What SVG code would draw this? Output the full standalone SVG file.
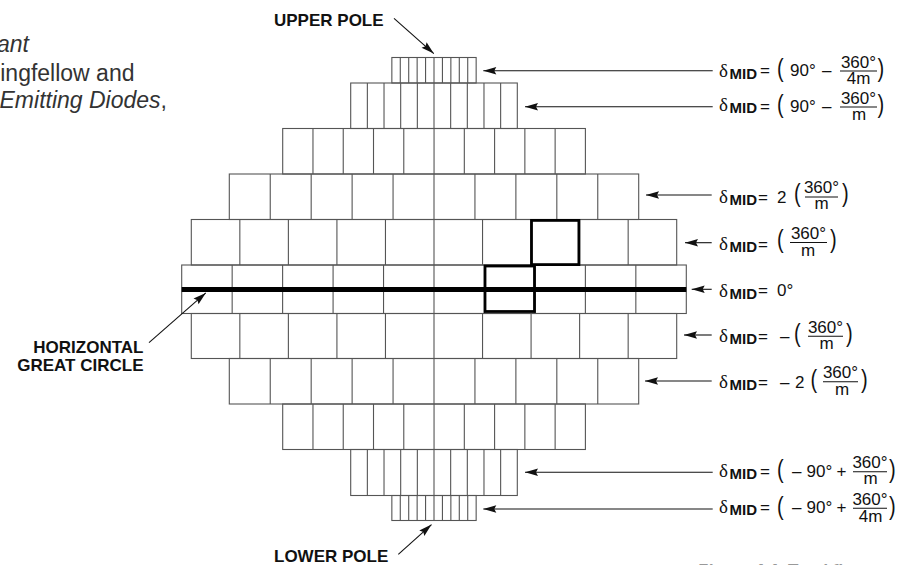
<svg xmlns="http://www.w3.org/2000/svg" width="909" height="565" viewBox="0 0 909 565">
<defs>
<style>
.g{fill:none;stroke:#555;stroke-width:1.1}
.bold{fill:none;stroke:#000;stroke-width:2.8}
.eq{stroke:#000;stroke-width:5}
.ar{stroke:#111;stroke-width:1.1;fill:none;marker-end:url(#ah)}
.bar{stroke:#111;stroke-width:1.1}
.t{font-family:"Liberation Sans",Arial,sans-serif;font-size:17px;fill:#111}
.c{text-anchor:middle}
.dl{font-family:"Liberation Serif","Times New Roman",serif;font-size:19px;fill:#111}
.mid{font-family:"Liberation Sans",Arial,sans-serif;font-size:15px;font-weight:bold;fill:#111}
.pa{font-family:"Liberation Sans",Arial,sans-serif;font-size:20px;fill:#111}
.lb{font-family:"Liberation Sans",Arial,sans-serif;font-size:17px;font-weight:bold;fill:#111}
.tl{font-family:"Liberation Sans",Arial,sans-serif;font-size:23px;fill:#333;text-anchor:end}
.cap{font-family:"Liberation Sans",Arial,sans-serif;font-size:17px;font-weight:bold;font-style:italic;fill:#999}
</style>
<marker id="ah" viewBox="-14 -5 15 10" refX="0" refY="0" markerWidth="15" markerHeight="10" markerUnits="userSpaceOnUse" orient="auto">
<path d="M0,0 L-13,-3.8 L-11,0 L-13,3.8 Z" fill="#111"/>
</marker>
</defs>
<rect width="909" height="565" fill="#fff"/>

<g id="intro-text">
<text class="tl" x="29" y="51.5" font-style="italic">ant</text>
<text class="tl" x="134.5" y="80.5">ingfellow and</text>
<text class="tl" x="167" y="108"><tspan font-style="italic">Emitting Diodes</tspan>,</text>
</g>

<g id="grid">
<g id="row1"><rect class="g" x="391.85" y="57.5" width="84.3" height="25.5"/><path class="g" d="M400.28,57.5V83M408.71,57.5V83M417.14,57.5V83M425.57,57.5V83M434,57.5V83M442.43,57.5V83M450.86,57.5V83M459.29,57.5V83M467.72,57.5V83"/></g>
<g id="row2"><rect class="g" x="350.7" y="83" width="166.6" height="45.5"/><path class="g" d="M367.36,83V128.5M384.02,83V128.5M400.68,83V128.5M417.34,83V128.5M434,83V128.5M450.66,83V128.5M467.32,83V128.5M483.98,83V128.5M500.64,83V128.5"/></g>
<g id="row3"><rect class="g" x="282.7" y="128.5" width="302.7" height="45.5"/><path class="g" d="M312.97,128.5V174M343.24,128.5V174M373.51,128.5V174M403.78,128.5V174M434.05,128.5V174M464.32,128.5V174M494.59,128.5V174M524.86,128.5V174M555.13,128.5V174"/></g>
<g id="row4"><rect class="g" x="229.3" y="174" width="409.4" height="45.5"/><path class="g" d="M270.24,174V219.5M311.18,174V219.5M352.12,174V219.5M393.06,174V219.5M434,174V219.5M474.94,174V219.5M515.88,174V219.5M556.82,174V219.5M597.76,174V219.5"/></g>
<g id="row5"><rect class="g" x="191.3" y="219.5" width="485.4" height="45.5"/><path class="g" d="M239.84,219.5V265M288.38,219.5V265M336.92,219.5V265M385.46,219.5V265M434,219.5V265M482.54,219.5V265M531.08,219.5V265M579.62,219.5V265M628.16,219.5V265"/></g>
<g id="row6"><rect class="g" x="181.7" y="265" width="504.6" height="48.5"/><path class="g" d="M232.16,265V313.5M282.62,265V313.5M333.08,265V313.5M383.54,265V313.5M434,265V313.5M484.46,265V313.5M534.92,265V313.5M585.38,265V313.5M635.84,265V313.5"/></g>
<g id="row7"><rect class="g" x="191.3" y="313.5" width="485.4" height="45"/><path class="g" d="M239.84,313.5V358.5M288.38,313.5V358.5M336.92,313.5V358.5M385.46,313.5V358.5M434,313.5V358.5M482.54,313.5V358.5M531.08,313.5V358.5M579.62,313.5V358.5M628.16,313.5V358.5"/></g>
<g id="row8"><rect class="g" x="229.3" y="358.5" width="409.4" height="45.5"/><path class="g" d="M270.24,358.5V404M311.18,358.5V404M352.12,358.5V404M393.06,358.5V404M434,358.5V404M474.94,358.5V404M515.88,358.5V404M556.82,358.5V404M597.76,358.5V404"/></g>
<g id="row9"><rect class="g" x="282.7" y="404" width="302.7" height="45.5"/><path class="g" d="M312.97,404V449.5M343.24,404V449.5M373.51,404V449.5M403.78,404V449.5M434.05,404V449.5M464.32,404V449.5M494.59,404V449.5M524.86,404V449.5M555.13,404V449.5"/></g>
<g id="row10"><rect class="g" x="350.7" y="449.5" width="166.6" height="46"/><path class="g" d="M367.36,449.5V495.5M384.02,449.5V495.5M400.68,449.5V495.5M417.34,449.5V495.5M434,449.5V495.5M450.66,449.5V495.5M467.32,449.5V495.5M483.98,449.5V495.5M500.64,449.5V495.5"/></g>
<g id="row11"><rect class="g" x="391.85" y="495.5" width="84.3" height="25"/><path class="g" d="M400.28,495.5V520.5M408.71,495.5V520.5M417.14,495.5V520.5M425.57,495.5V520.5M434,495.5V520.5M442.43,495.5V520.5M450.86,495.5V520.5M459.29,495.5V520.5M467.72,495.5V520.5"/></g>
<g id="great-circle"><line class="eq" x1="181.7" y1="289.5" x2="686.3" y2="289.5"/></g>
<g id="highlight-cells">
<rect class="bold" x="531.5" y="220.4" width="47.4" height="44.2"/>
<rect class="bold" x="485" y="266" width="49.5" height="45.5"/>
</g>
</g>

<g id="connectors">
<line class="ar" x1="394" y1="18.3" x2="433.8" y2="53.6"/>
<line class="ar" x1="398.3" y1="554.3" x2="431.5" y2="524.6"/>
<line class="ar" x1="149" y1="342.7" x2="205.8" y2="292.9"/>
<line class="ar" x1="712.7" y1="70.7" x2="483.3" y2="70.7"/>
<line class="ar" x1="712.7" y1="106.7" x2="525" y2="106.7"/>
<line class="ar" x1="711.7" y1="195" x2="646" y2="195"/>
<line class="ar" x1="711.7" y1="242.7" x2="685" y2="242.7"/>
<line class="ar" x1="711.7" y1="289.3" x2="691.7" y2="289.3"/>
<line class="ar" x1="711.7" y1="335" x2="684" y2="335"/>
<line class="ar" x1="711.7" y1="381" x2="645" y2="381"/>
<line class="ar" x1="712.7" y1="472.3" x2="525" y2="472.3"/>
<line class="ar" x1="712.7" y1="509" x2="483.3" y2="509"/>
</g>

<g id="upper-pole"><text class="lb" x="274" y="26">UPPER POLE</text></g>
<g id="lower-pole"><text class="lb" x="274" y="562">LOWER POLE</text></g>
<g id="horizontal-great-circle">
<text class="lb" x="143.5" y="353.3" text-anchor="end">HORIZONTAL</text>
<text class="lb" x="143.5" y="371" text-anchor="end">GREAT CIRCLE</text>
</g>

<g id="label1">
<text class="dl" x="719" y="76.5">δ</text><text class="mid" x="729.5" y="78.5">MID</text>
<text class="t" x="760" y="76">=</text>
<text class="pa" transform="translate(777,77.2) scale(1,1.3)">(</text>
<text class="t" x="790" y="76">90°</text><text class="t" x="822" y="76">–</text>
<text class="t c" x="858.5" y="67.5">360°</text><line class="bar" x1="840" y1="71" x2="877" y2="71"/><text class="t c" x="858.5" y="84">4m</text>
<text class="pa" transform="translate(877.5,77.2) scale(1,1.3)">)</text>
</g>
<g id="label2">
<text class="dl" x="719" y="111">δ</text><text class="mid" x="729.5" y="113.3">MID</text>
<text class="t" x="760" y="111.5">=</text>
<text class="pa" transform="translate(777,112.5) scale(1,1.3)">(</text>
<text class="t" x="790" y="111.5">90°</text><text class="t" x="822" y="111.5">–</text>
<text class="t c" x="858.5" y="103.5">360°</text><line class="bar" x1="840" y1="107" x2="877" y2="107"/><text class="t c" x="859" y="119.8">m</text>
<text class="pa" transform="translate(877.5,112.5) scale(1,1.3)">)</text>
</g>
<g id="label3">
<text class="dl" x="719" y="203">δ</text><text class="mid" x="729.5" y="205">MID</text>
<text class="t" x="758" y="203">=</text><text class="t" x="777" y="203">2</text>
<text class="pa" transform="translate(794,201.7) scale(1,1.3)">(</text>
<text class="t c" x="821.5" y="193">360°</text><line class="bar" x1="805" y1="197" x2="838" y2="197"/><text class="t c" x="821.5" y="208.8">m</text>
<text class="pa" transform="translate(842,201.7) scale(1,1.3)">)</text>
</g>
<g id="label4">
<text class="dl" x="719" y="250">δ</text><text class="mid" x="729.5" y="251.7">MID</text>
<text class="t" x="758" y="250">=</text>
<text class="pa" transform="translate(777,247.5) scale(1,1.3)">(</text>
<text class="t c" x="808.5" y="239">360°</text><line class="bar" x1="790" y1="242.5" x2="827" y2="242.5"/><text class="t c" x="808" y="255.5">m</text>
<text class="pa" transform="translate(830,247.5) scale(1,1.3)">)</text>
</g>
<g id="label5">
<text class="dl" x="719" y="296.7">δ</text><text class="mid" x="729.5" y="299">MID</text>
<text class="t" x="758" y="296">=</text><text class="t" x="777" y="295.5">0°</text>
</g>
<g id="label6">
<text class="dl" x="719" y="342.3">δ</text><text class="mid" x="729.5" y="344">MID</text>
<text class="t" x="758" y="342">=</text><text class="t" x="780" y="342">–</text>
<text class="pa" transform="translate(794,342.2) scale(1,1.3)">(</text>
<text class="t c" x="825.5" y="332.8">360°</text><line class="bar" x1="808" y1="336.3" x2="843" y2="336.3"/><text class="t c" x="826.5" y="348.8">m</text>
<text class="pa" transform="translate(846,342.2) scale(1,1.3)">)</text>
</g>
<g id="label7">
<text class="dl" x="719" y="388.3">δ</text><text class="mid" x="729.5" y="390">MID</text>
<text class="t" x="758" y="388">=</text><text class="t" x="780" y="388">–</text><text class="t" x="795" y="388">2</text>
<text class="pa" transform="translate(810.5,388.2) scale(1,1.3)">(</text>
<text class="t c" x="840.5" y="378">360°</text><line class="bar" x1="823" y1="381.8" x2="858" y2="381.8"/><text class="t c" x="842" y="394.8">m</text>
<text class="pa" transform="translate(861,388.2) scale(1,1.3)">)</text>
</g>
<g id="label8">
<text class="dl" x="719" y="476.7">δ</text><text class="mid" x="729.5" y="479">MID</text>
<text class="t" x="760" y="477">=</text>
<text class="pa" transform="translate(777,478.2) scale(1,1.3)">(</text>
<text class="t" x="792" y="477">–</text><text class="t" x="806.5" y="477">90°</text><text class="t" x="836.5" y="477">+</text>
<text class="t c" x="870" y="468">360°</text><line class="bar" x1="853" y1="471.7" x2="887" y2="471.7"/><text class="t c" x="870.5" y="484">m</text>
<text class="pa" transform="translate(889,478.2) scale(1,1.3)">)</text>
</g>
<g id="label9">
<text class="dl" x="719" y="512.7">δ</text><text class="mid" x="729.5" y="515">MID</text>
<text class="t" x="760" y="513">=</text>
<text class="pa" transform="translate(777,515) scale(1,1.3)">(</text>
<text class="t" x="792" y="513">–</text><text class="t" x="806.5" y="513">90°</text><text class="t" x="836.5" y="513">+</text>
<text class="t c" x="870" y="504.5">360°</text><line class="bar" x1="853" y1="508.3" x2="887" y2="508.3"/><text class="t c" x="870.5" y="522">4m</text>
<text class="pa" transform="translate(889,515) scale(1,1.3)">)</text>
</g>

<g id="caption"><text class="cap" x="697" y="576">Figure 4.4. Total flux measurement</text></g>
</svg>
